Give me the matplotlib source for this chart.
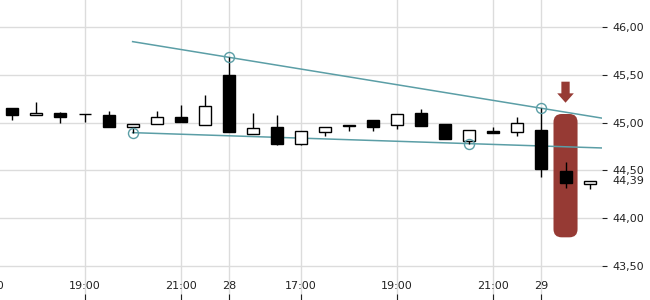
import numpy as np
import matplotlib
matplotlib.use("Agg")
import matplotlib.pyplot as plt
from matplotlib.patches import FancyBboxPatch, FancyArrow
from matplotlib.ticker import FuncFormatter, FixedLocator
from matplotlib.transforms import blended_transform_factory

# 30-minute candles
opens  = [45.15, 45.08, 45.10, 45.09, 45.08, 44.95, 44.99, 45.06, 44.98, 45.50,
          44.88, 44.95, 44.78, 44.90, 44.96, 45.03, 44.97, 45.10, 44.99, 44.81,
          44.91, 44.90, 44.92, 44.49, 44.36]
highs  = [45.15, 45.22, 45.115, 45.09, 45.12, 44.99, 45.12, 45.185, 45.29, 45.683,
          45.10, 45.08, 44.91, 44.95, 44.98, 45.03, 45.09, 45.14, 44.99, 44.925,
          44.95, 45.06, 45.15, 44.59, 44.39]
lows   = [45.03, 45.08, 45.00, 45.01, 44.95, 44.895, 44.99, 45.01, 44.98, 44.90,
          44.88, 44.77, 44.77, 44.865, 44.91, 44.915, 44.935, 44.96, 44.825, 44.78,
          44.895, 44.865, 44.435, 44.32, 44.31]
closes = [45.08, 45.10, 45.06, 45.088, 44.95, 44.99, 45.055, 45.01, 45.17, 44.90,
          44.94, 44.78, 44.91, 44.95, 44.98, 44.95, 45.09, 44.96, 44.825, 44.925,
          44.895, 45.00, 44.515, 44.37, 44.39]

tick_pos = [-1, 3, 7, 9, 12, 16, 20, 22]
tick_labels = ["17:00", "19:00", "21:00", "28", "17:00", "19:00", "21:00", "29"]
y_ticks = [43.5, 44.0, 44.5, 45.0, 45.5, 46.0]

# trend line anchors (candle index, which price)
upper_idx = [9, 22]
lower_idx = [5, 19]
trend_start, trend_end = 5, 24.6
signal_idx = 23
box_top, box_bottom = 45.09, 43.80

teal = "#5b9ea6"
red = "#963a34"

fig = plt.figure(figsize=(6.5, 3), dpi=100)
# axes runs slightly past the left edge so the first label is cut off
ax = fig.add_axes([-23.7 / 650, 0, 625.3 / 650, 1])
ax.set_xlim(-1.5, 24.5)
ax.set_ylim(43.1444, 46.2824)

x = np.arange(len(opens))
o = np.array(opens); c = np.array(closes)
up = c >= o

ax.grid(True, color="#dcdcdc", lw=1.0, zorder=0)
ax.set_axisbelow(True)
for s in ax.spines.values():
    s.set_visible(False)

# signal box and arrow
bw_px = 24.05
asp = (1 / 95.6) / (1 / bw_px)
box = FancyBboxPatch((signal_idx - 0.5, box_bottom), 1.0, box_top - box_bottom,
                     boxstyle="round,pad=0,rounding_size=0.34", mutation_aspect=asp,
                     fc=red, ec="none", zorder=1)
ax.add_patch(box)
ax.add_patch(FancyArrow(signal_idx, 45.428, 0, -0.22, width=0.345, head_width=0.69,
                        head_length=0.098, length_includes_head=True,
                        fc=red, ec="none", zorder=1))

# trend lines
hi = np.array(highs); lo = np.array(lows)
xe = np.array([trend_start, trend_end])
k = (hi[upper_idx[1]] - hi[upper_idx[0]]) / (upper_idx[1] - upper_idx[0])
ax.plot(xe, hi[upper_idx[0]] + k * (xe - upper_idx[0]), color=teal, lw=1.1, zorder=2)
k = (lo[lower_idx[1]] - lo[lower_idx[0]]) / (lower_idx[1] - lower_idx[0])
ax.plot(xe, lo[lower_idx[0]] + k * (xe - lower_idx[0]), color=teal, lw=1.1, zorder=2)

# candles
ax.vlines(x, lows, highs, color="black", lw=1.0, zorder=3)
ax.bar(x, np.abs(c - o), bottom=np.minimum(o, c), width=0.5,
       color=np.where(up, "white", "black"), edgecolor="black", lw=1.0, zorder=4)

ax.plot(upper_idx, hi[upper_idx], "o", ms=7.2, mfc="none", mec=teal, mew=1.0, zorder=5)
ax.plot(lower_idx, lo[lower_idx], "o", ms=7.2, mfc="none", mec=teal, mew=1.0, zorder=5)

ax.xaxis.set_major_locator(FixedLocator(tick_pos))
ax.set_xticklabels(tick_labels)
ax.tick_params(axis="x", direction="in", length=4.3, width=0.8, pad=-13.5,
               labelsize=8, colors="#222222")
ax.yaxis.tick_right()
ax.set_yticks(y_ticks)
ax.yaxis.set_major_formatter(FuncFormatter(lambda v, p: f"{v:.2f}".replace(".", ",")))
ax.tick_params(axis="y", direction="out", length=3.6, width=0.8, pad=3.9,
               labelsize=8, colors="#222222")

tr = blended_transform_factory(ax.transAxes, ax.transData)
ax.text(1 + 10.4 / 625.3, closes[-1], f"{closes[-1]:.2f}".replace(".", ","),
        transform=tr, fontsize=8, color="#222222", va="center", ha="left",
        bbox=dict(fc="white", ec="none", pad=1.0), clip_on=False)

fig.savefig("out.png", dpi=100)
